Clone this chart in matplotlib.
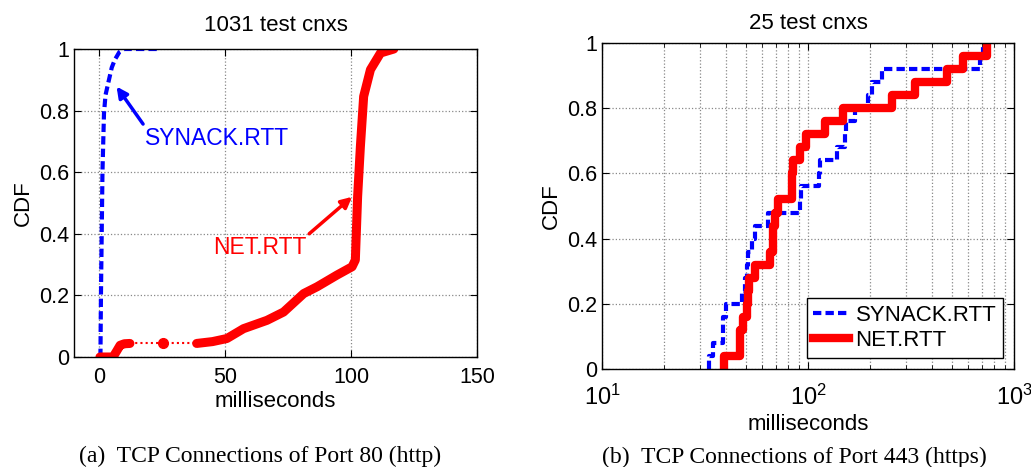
import numpy as np
import matplotlib
matplotlib.use("Agg")
import matplotlib.pyplot as plt

# ==========================================
# DATA
# ==========================================
# (a) port 80, 1031 cnxs: CDF curves
synack80_ms = [0.5, 0.7, 1.0, 1.3, 1.9, 2.5, 3.6, 5.0, 6.2, 8.0, 10.0, 23.0]
synack80_cdf = [0.0, 0.2, 0.4, 0.6, 0.79, 0.85, 0.89, 0.94, 0.965, 0.99, 1.0, 1.0]

net80_low_ms = [0.3, 3.0, 5.5, 7.0, 8.3, 10.0, 12.2]
net80_low_cdf = [0.0, 0.0, 0.0, 0.02, 0.038, 0.043, 0.044]
net80_gap_ms = [12.2, 25.4, 38.7]
net80_gap_cdf = [0.044, 0.044, 0.044]
net80_high_ms = [38.7, 45.0, 50.7, 57.3, 66.6, 73.2, 81.2, 86.5, 94.4, 100.4,
                 101.7, 102.6, 103.7, 105.0, 107.7, 111.7, 117.0]
net80_high_cdf = [0.044, 0.05, 0.06, 0.092, 0.119, 0.146, 0.206, 0.228, 0.266, 0.293,
                  0.315, 0.52, 0.683, 0.846, 0.933, 0.987, 1.0]

# (b) port 443, 25 cnxs: sample values (ms)
synack443_ms = [33.2, 34.4, 38.5, 38.8, 40.0, 47.6, 49.4, 50.4, 51.3, 53.3, 55.3, 64.2,
                91.5, 92.2, 113.6, 114.3, 137.7, 151, 153, 169, 196, 204, 228, 684, 710]
net443_ms = [39.0, 46.8, 46.8, 48.5, 50.3, 51.3, 51.9, 55.3, 65.4, 67.4, 67.9, 69.2,
             71.8, 83.3, 84.0, 84.9, 91.5, 97.8, 121, 148, 255, 330, 471, 567, 736]

yticks = [0, 0.2, 0.4, 0.6, 0.8, 1.0]
ytick_labels = ["0", "0.2", "0.4", "0.6", "0.8", "1"]
log_ticks = [10, 100, 1000]
log_labels = ["$10^{1}$", "$10^{2}$", "$10^{3}$"]

plt.rcParams['font.family'] = ['Liberation Sans', 'DejaVu Sans']
plt.rcParams['mathtext.fontset'] = 'custom'
plt.rcParams['mathtext.rm'] = 'Liberation Sans'
plt.rcParams['mathtext.it'] = 'Liberation Sans'

fig = plt.figure(figsize=(10.31, 4.67), dpi=100)
ax1 = fig.add_axes([74/1031, 1-357/467, (477-74)/1031, (357-49)/467])
ax2 = fig.add_axes([602/1031, 1-369/467, (1014-602)/1031, (369-43)/467])


def style_axes(ax, xpad, lpad):
    ax.tick_params(direction='in', top=True, right=True, labelsize=15.5, length=5, width=0.8)
    ax.tick_params(axis='x', pad=xpad)
    ax.tick_params(which='minor', direction='in', top=True, right=True, length=3, width=0.6)
    for s in ax.spines.values():
        s.set_linewidth(1.0)
    ax.set_ylim(0, 1)
    ax.set_yticks(yticks)
    ax.set_yticklabels(ytick_labels)
    ax.set_ylabel("CDF", fontsize=16)
    ax.set_xlabel("milliseconds", fontsize=16, labelpad=lpad)


# ---- (a) port 80 ----
ax1.plot(synack80_ms, synack80_cdf, color='blue', lw=3, dashes=(2, 1))
ax1.plot(net80_gap_ms, net80_gap_cdf, color='red', lw=1.5, linestyle=(0, (1, 1.5)))
ax1.plot(net80_gap_ms[1], net80_gap_cdf[1], 'o', color='red', markersize=7)
ax1.plot(net80_low_ms, net80_low_cdf, color='red', lw=6.5, solid_capstyle='round', solid_joinstyle='round')
ax1.plot(net80_high_ms, net80_high_cdf, color='red', lw=6.5, solid_capstyle='round', solid_joinstyle='round')
ax1.set_xlim(-10, 150)
ax1.set_xticks([0, 50, 100, 150])
ax1.grid(True, linestyle=':', color='#888888', lw=0.9)
style_axes(ax1, 7.5, 2)
ax1.set_title("1031 test cnxs", fontsize=16, pad=13)

ax1.annotate("SYNACK.RTT", xy=(6.9, 0.878), xytext=(18.2, 0.71), color='blue', fontsize=16.5,
             va='center', ha='left',
             arrowprops=dict(arrowstyle='-|>', color='blue', lw=2.5, mutation_scale=16,
                             shrinkA=0, shrinkB=0, relpos=(0.0, 1.0)))
ax1.annotate("NET.RTT", xy=(100.4, 0.52), xytext=(45.2, 0.355), color='red', fontsize=16.5,
             va='center', ha='left',
             arrowprops=dict(arrowstyle='-|>', color='red', lw=2.5, mutation_scale=16,
                             shrinkA=0, shrinkB=0, relpos=(1.0, 1.0)))

# ---- (b) port 443 ----
for vals, color, kw, name in [(synack443_ms, 'blue', dict(lw=3, dashes=(2, 1)), "SYNACK.RTT"),
                              (net443_ms, 'red', dict(lw=6), "NET.RTT")]:
    xs = np.sort(vals)
    cdf = np.arange(1, len(xs) + 1) / len(xs)
    ax2.step(np.r_[xs[0], xs], np.r_[0, cdf], where='post', color=color, label=name, **kw)
ax2.set_xscale('log')
ax2.set_xlim(10, 1000)
ax2.grid(True, which='both', linestyle=':', color='#888888', lw=0.9)
style_axes(ax2, 11, 3)
ax2.set_xticks(log_ticks)
ax2.set_xticklabels(log_labels, fontsize=17)
ax2.set_title("25 test cnxs", fontsize=16, pad=10)
leg = ax2.legend(loc='lower right', fontsize=16, handlelength=1.6, fancybox=False,
                 framealpha=1, edgecolor='black', borderaxespad=0.5,
                 borderpad=0.3, labelspacing=0.2, handletextpad=0.3)
leg.get_frame().set_linewidth(1.0)

# captions
fig.text(260/1031, 1-456/467, "(a)  TCP Connections of Port 80 (http)", ha='center', va='center',
         fontsize=17, family='Liberation Serif')
fig.text(794/1031, 1-457/467, "(b)  TCP Connections of Port 443 (https)", ha='center', va='center',
         fontsize=17, family='Liberation Serif')

fig.savefig("out.png", dpi=100)
